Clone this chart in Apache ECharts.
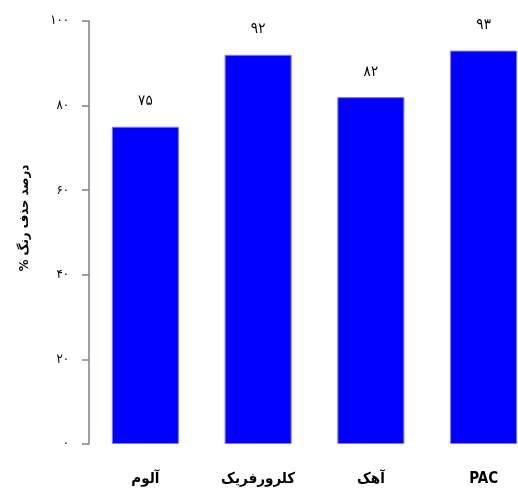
<!DOCTYPE html>
<html><head><meta charset="utf-8">
<script src="https://cdn.jsdelivr.net/npm/echarts@6/dist/echarts.min.js"></script>
<style>html,body{margin:0;padding:0;background:#fff}#c{width:518px;height:492px}</style>
</head><body><div id="c"></div>
<script>
const categories = ['آلوم', 'کلرورفریک', 'آهک', 'PAC'];
const values = [75, 92, 82, 93];
const yTicks = [0, 20, 40, 60, 80, 100];
const yTitle = 'درصد حذف رنگ %';

const fa = s => String(s).replace(/[0-9]/g, d => '۰۱۲۳۴۵۶۷۸۹'[d]);
const FONT = '"DejaVu Sans Condensed", "DejaVu Sans", sans-serif';
const chart = echarts.init(document.getElementById('c'));
chart.setOption({
  animation: false,
  grid: { left: 89, width: 451, top: 21, bottom: 48, outerBoundsMode: 'none', containLabel: false },
  xAxis: {
    type: 'category', data: categories,
    axisLine: { show: false }, axisTick: { show: false },
    axisLabel: { interval: 0, margin: 28, fontSize: 15, fontWeight: 'bold', color: '#000', fontFamily: FONT }
  },
  yAxis: {
    type: 'value', min: yTicks[0], max: yTicks[yTicks.length - 1], interval: 20,
    splitLine: { show: false },
    axisLine: { show: true, lineStyle: { color: '#808080', width: 1.5 } },
    axisTick: { show: true, length: 7, lineStyle: { color: '#808080', width: 1.5 } },
    axisLabel: { margin: 20, fontSize: 13, color: '#000', fontFamily: FONT, formatter: v => fa(v) }
  },
  graphic: [{
    type: 'text', x: 25, y: 218, rotation: Math.PI / 2,
    style: { text: yTitle + '\u200F', fontSize: 13, fontWeight: 'bold', fill: '#000', fontFamily: FONT, align: 'center', verticalAlign: 'middle' }
  }],
  series: [{
    type: 'bar', data: values, barWidth: 67,
    itemStyle: { color: '#0000ff', borderColor: '#7777ff', borderWidth: 1 },
    label: { show: true, position: 'top', distance: 18, fontSize: 15, color: '#000', fontFamily: FONT, formatter: p => fa(p.value) }
  }]
});
</script></body></html>
